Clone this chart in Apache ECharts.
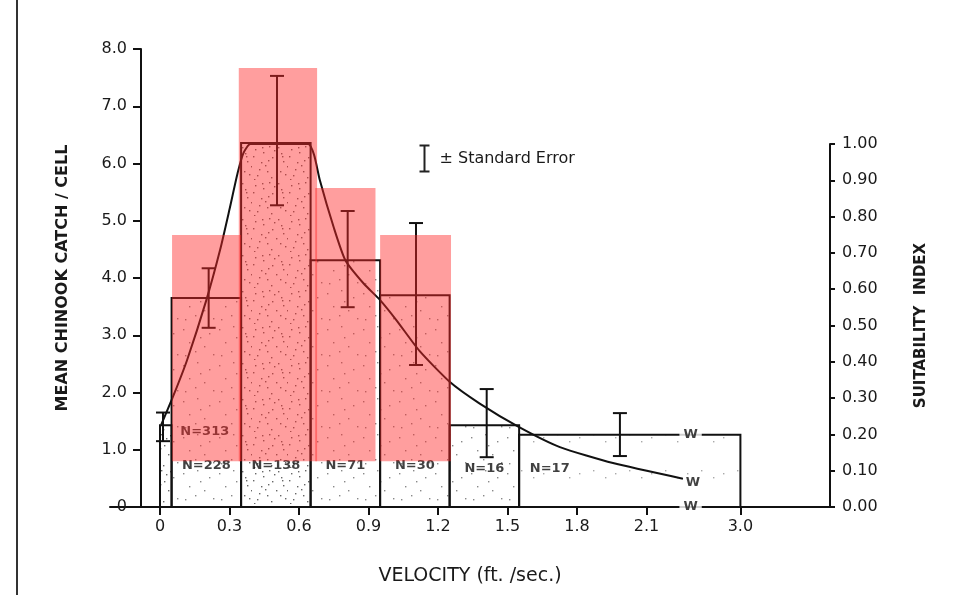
<!DOCTYPE html>
<html><head><meta charset="utf-8">
<script src="https://cdn.jsdelivr.net/npm/echarts@6/dist/echarts.min.js"></script>
<style>html,body{margin:0;padding:0;background:#fff}#c{width:954px;height:595px}</style>
</head><body><div id="c"></div>
<script>
// ---- Histogram bins (velocity, ft/sec) ----
const binStart  = [0, 0.05, 0.35, 0.65, 0.95, 1.25, 1.55];
const binEnd    = [0.05, 0.35, 0.65, 0.95, 1.25, 1.55, 3.0];
const meanCatch = [1.43, 3.65, 6.36, 4.31, 3.70, 1.43, 1.26];
const sampleN   = [313, 228, 138, 71, 30, 16, 17];
// ---- Standard error bars ----
const errX    = [0.013, 0.21, 0.505, 0.81, 1.105, 1.41, 1.985];
const errHigh = [1.65, 4.17, 7.53, 5.17, 4.96, 2.06, 1.64];
const errLow  = [1.15, 3.13, 5.27, 3.49, 2.48, 0.87, 0.89];
// ---- Suitability index curve ----
const curveX = [0.005, 0.06, 0.117, 0.2, 0.26, 0.3, 0.335, 0.36, 0.39, 0.45, 0.55, 0.64, 0.665, 0.69, 0.75, 0.8, 0.88, 0.95, 1.02, 1.12, 1.25, 1.38, 1.55, 1.726, 1.955, 2.257];
const curveY = [0.226, 0.31, 0.405, 0.57, 0.71, 0.82, 0.92, 0.975, 1.0, 1.0, 1.0, 1.0, 0.97, 0.9, 0.77, 0.68, 0.615, 0.57, 0.515, 0.43, 0.345, 0.285, 0.22, 0.165, 0.121, 0.078];
// ---- Highlight boxes (left-axis units) ----
const boxX0 = [0.052, 0.34, 0.67, 0.95];
const boxX1 = [0.35, 0.678, 0.93, 1.256];
const boxY0 = [0.80, 0.80, 0.80, 0.80];
const boxY1 = [4.75, 7.67, 5.57, 4.75];
// ---- Ticks ----
const xTickValues = [0, 0.3, 0.6, 0.9, 1.2, 1.5, 1.8, 2.1, 3.0];
const xTickLabels = ['0', '0.3', '0.6', '0.9', '1.2', '1.5', '1.8', '2.1', '3.0'];
const breakAt = 2.29; // position of the axis break (display scale)

// broken axis: values above the break are shifted left
function dx(x) { return x <= 2.4 ? x : x - 0.495; }

const TXT = '#1a1a1a';
const FONT = 'DejaVu Sans';

// stipple pattern (texture only)
function makePattern(dots, alpha) {
  const c = document.createElement('canvas'); c.width = 36; c.height = 36;
  const g = c.getContext('2d'); g.fillStyle = 'rgba(40,40,40,' + alpha + ')';
  dots.forEach(d => g.fillRect(d[0], d[1], 1.4, 1.4));
  return { image: c, repeat: 'repeat' };
}
const dotsLight = [[3,5],[17,2],[29,9],[9,18],[24,22],[33,30],[5,31],[15,27],[20,13]];
const dotsDense = dotsLight.concat([[1,12],[11,8],[26,3],[31,17],[7,25],[19,33],[28,27],[13,21],[22,6],[2,35],[35,22],[16,16],[30,12],[10,3]]);
const patLight = makePattern(dotsLight, 0.55);
const patDense = makePattern(dotsDense, 0.7);
const binPattern = [patDense, patLight, patDense, patLight, patLight, patLight, makePattern(dotsLight.slice(0,3), 0.4)];
const nOffset = [[39, -34], [0, 0], [0, 0], [0, 0], [0, 0], [0, 3], [-80, 3]];

const chart = echarts.init(document.getElementById('c'));
const xMin = -0.2158, xMax = 2.8917;
const gridL = 110, gridR = 124;

const option = {
  animation: false,
  backgroundColor: '#fff',
  textStyle: { fontFamily: FONT, color: TXT },
  grid: [
    { left: gridL, right: gridR, top: 49, bottom: 88 },
    { left: gridL, right: gridR, top: 144, bottom: 88 }
  ],
  xAxis: [
    {
      type: 'value', gridIndex: 0, min: xMin, max: xMax,
      name: 'VELOCITY (ft. /sec.)', nameLocation: 'middle', nameGap: 60,
      nameTextStyle: { fontSize: 19, color: TXT, fontFamily: FONT },
      axisLine: { show: true, onZero: false, lineStyle: { color: '#111', width: 2 } },
      axisTick: { show: true, inside: false, length: 8, lineStyle: { color: '#111', width: 2 }, customValues: xTickValues.map(dx) },
      axisLabel: {
        show: true, margin: 12, fontSize: 16, color: TXT, fontFamily: FONT,
        customValues: xTickValues.map(dx),
        formatter: v => { let k = 0, b = 1e9; xTickValues.forEach((t, i) => { const d = Math.abs(dx(t) - v); if (d < b) { b = d; k = i; } }); return xTickLabels[k]; }
      },
      splitLine: { show: false }
    },
    { type: 'value', gridIndex: 1, min: xMin, max: xMax, show: false }
  ],
  yAxis: [
    {
      type: 'value', gridIndex: 0, min: 0, max: 8, interval: 1, position: 'left', offset: -31,
      name: 'MEAN CHINOOK CATCH / CELL', nameLocation: 'middle', nameGap: 70, nameRotate: 90,
      nameTextStyle: { fontSize: 16, fontWeight: 'bold', color: TXT, fontFamily: FONT },
      axisLine: { show: true, onZero: false, lineStyle: { color: '#111', width: 2 } },
      axisTick: { show: true, length: 8, lineStyle: { color: '#111', width: 2 } },
      axisLabel: { margin: 14, fontSize: 16, color: TXT, fontFamily: FONT, formatter: v => v === 0 ? '0' : v.toFixed(1) },
      splitLine: { show: false }
    },
    {
      type: 'value', gridIndex: 1, min: 0, max: 1, interval: 0.1, position: 'right',
      name: 'SUITABILITY  INDEX', nameLocation: 'middle', nameGap: 84, nameRotate: 90,
      nameTextStyle: { fontSize: 15, fontWeight: 'bold', color: TXT, fontFamily: FONT },
      axisLine: { show: true, onZero: false, lineStyle: { color: '#111', width: 2 } },
      axisTick: { show: true, length: 5, lineStyle: { color: '#111', width: 2 } },
      axisLabel: { margin: 12, fontSize: 16, color: TXT, fontFamily: FONT, formatter: v => v.toFixed(2) },
      splitLine: { show: false }
    }
  ],
  series: [
    { // histogram bars
      type: 'custom', xAxisIndex: 0, yAxisIndex: 0, z: 2, clip: false,
      data: binStart.map((s, i) => [dx(s), dx(binEnd[i]), meanCatch[i], i]),
      encode: { x: [0, 1], y: 2 },
      renderItem: (params, api) => {
        const p0 = api.coord([api.value(0), 0]);
        const p1 = api.coord([api.value(1), api.value(2)]);
        return { type: 'rect', shape: { x: p0[0], y: p1[1], width: p1[0] - p0[0], height: p0[1] - p1[1] },
          style: { fill: binPattern[api.value(3)], stroke: '#111', lineWidth: 2 } };
      }
    },
    { // error bars
      type: 'custom', xAxisIndex: 0, yAxisIndex: 0, z: 4, clip: false,
      data: errX.map((x, i) => [dx(x), errLow[i], errHigh[i]]),
      encode: { x: 0, y: [1, 2] },
      renderItem: (params, api) => {
        const lo = api.coord([api.value(0), api.value(1)]);
        const hi = api.coord([api.value(0), api.value(2)]);
        const w = 7, st = { stroke: '#111', lineWidth: 2 };
        return { type: 'group', children: [
          { type: 'line', shape: { x1: lo[0], y1: lo[1], x2: hi[0], y2: hi[1] }, style: st },
          { type: 'line', shape: { x1: lo[0] - w, y1: lo[1], x2: lo[0] + w, y2: lo[1] }, style: st },
          { type: 'line', shape: { x1: hi[0] - w, y1: hi[1], x2: hi[0] + w, y2: hi[1] }, style: st }
        ] };
      }
    },
    { // suitability curve
      type: 'line', xAxisIndex: 1, yAxisIndex: 1, z: 4, smooth: 0.2, showSymbol: false,
      data: curveX.map((x, i) => [x, curveY[i]]),
      lineStyle: { color: '#111', width: 2 }
    },
    { // N labels
      type: 'scatter', xAxisIndex: 0, yAxisIndex: 0, z: 5, symbolSize: 0, silent: true,
      data: sampleN.map((n, i) => ({ value: [(dx(binStart[i]) + dx(binEnd[i])) / 2, 0.72, n],
        label: { offset: nOffset[i] } })),
      label: { show: true, position: 'inside', formatter: p => 'N=' + p.value[2], fontSize: 13, fontWeight: 'bold', color: '#111', fontFamily: FONT }
    },
    { // highlight boxes
      type: 'custom', xAxisIndex: 0, yAxisIndex: 0, z: 10, clip: false, silent: true,
      data: boxX0.map((x, i) => [x, boxX1[i], boxY0[i], boxY1[i]]),
      encode: { x: [0, 1], y: [2, 3] },
      renderItem: (params, api) => {
        const a = api.coord([api.value(0), api.value(2)]);
        const b = api.coord([api.value(1), api.value(3)]);
        return { type: 'rect', shape: { x: a[0], y: b[1], width: b[0] - a[0], height: a[1] - b[1] },
          style: { fill: 'rgba(255,40,40,0.45)' } };
      }
    },
    { // axis break marks on bars / baseline
      type: 'scatter', xAxisIndex: 0, yAxisIndex: 0, z: 12, symbolSize: 0, silent: true,
      data: [[breakAt, meanCatch[6]], [breakAt, 0]],
      label: { show: true, position: 'inside', formatter: 'W', fontSize: 13, fontWeight: 'bold', color: '#111',
        backgroundColor: '#fff', padding: [1, 4], fontFamily: FONT }
    },
    { // break mark at curve end
      type: 'scatter', xAxisIndex: 1, yAxisIndex: 1, z: 12, symbolSize: 0, silent: true,
      data: [[breakAt + 0.01, curveY[curveY.length - 1] - 0.012]],
      label: { show: true, position: 'inside', formatter: 'W', fontSize: 13, fontWeight: 'bold', color: '#111', fontFamily: FONT }
    }
  ],
  graphic: [
    { type: 'line', shape: { x1: 17, y1: 0, x2: 17, y2: 595 }, style: { stroke: '#333', lineWidth: 2 } },
    { type: 'group', left: 417, top: 143, children: [
      { type: 'line', shape: { x1: 7, y1: 0, x2: 7, y2: 26 }, style: { stroke: '#222', lineWidth: 2 } },
      { type: 'line', shape: { x1: 2, y1: 0, x2: 12, y2: 0 }, style: { stroke: '#222', lineWidth: 2 } },
      { type: 'line', shape: { x1: 2, y1: 26, x2: 12, y2: 26 }, style: { stroke: '#222', lineWidth: 2 } },
      { type: 'text', x: 22, y: 13, style: { text: '± Standard Error', fontSize: 16, fill: TXT, fontFamily: FONT, verticalAlign: 'middle' } }
    ] }
  ]
};
chart.setOption(option);
</script>
</body></html>
